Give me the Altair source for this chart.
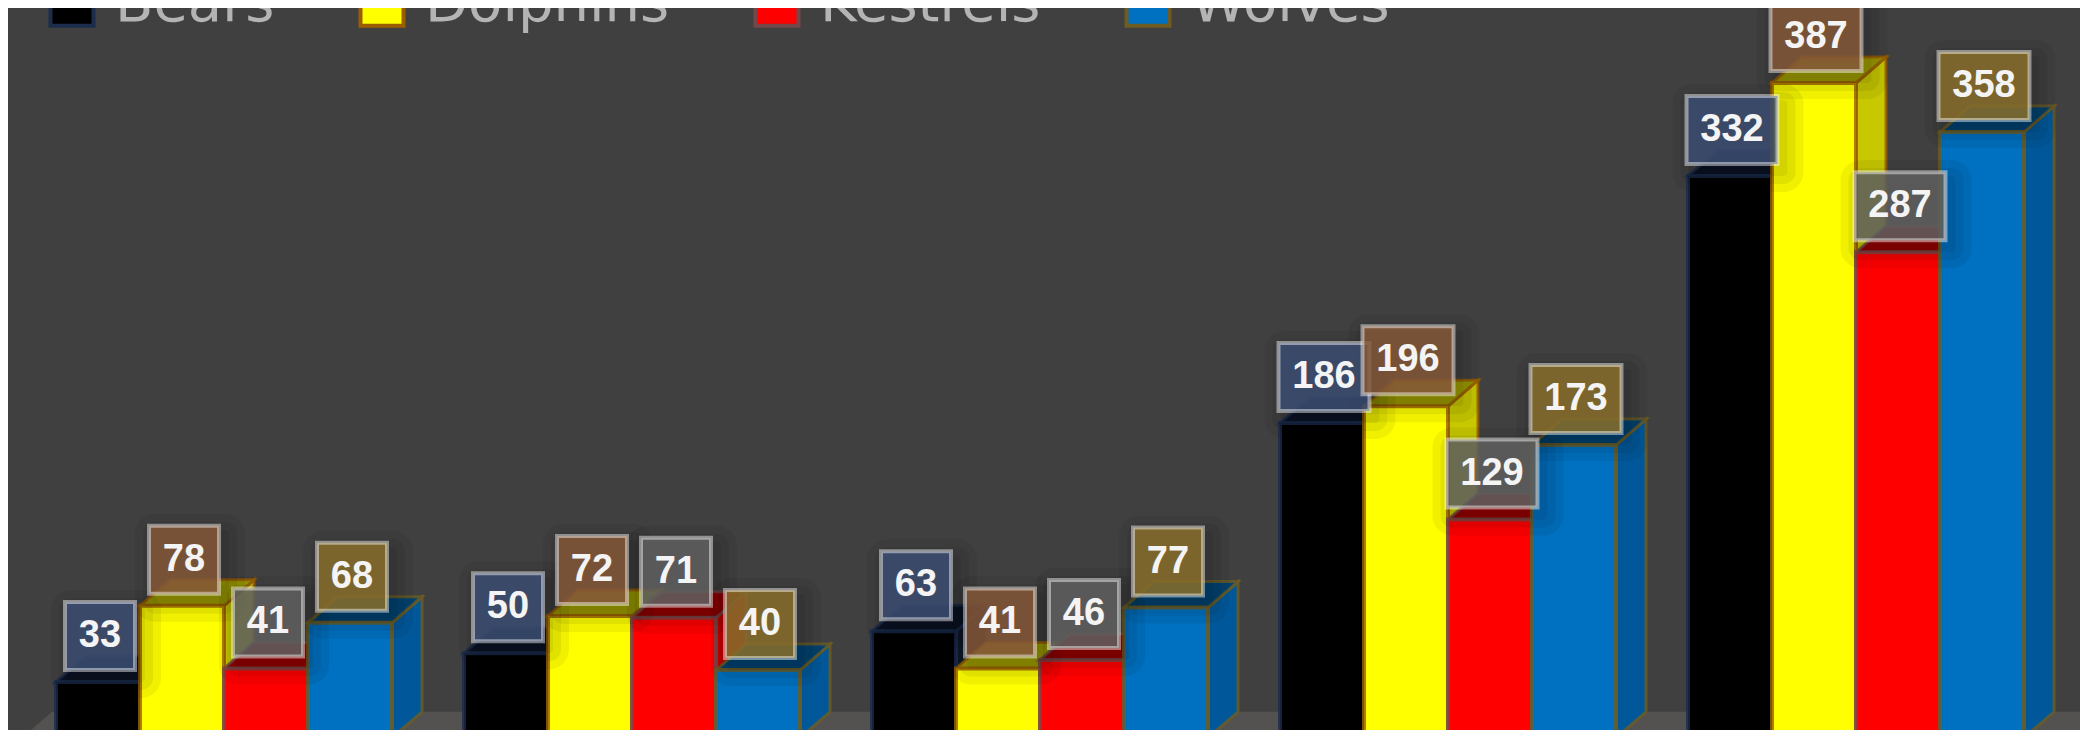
import altair as alt
import pandas as pd

# ---- data -------------------------------------------------------------
series = ["Bears", "Dolphins", "Kestrels", "Wolves"]
groups = ["G1", "G2", "G3", "G4", "G5"]
bears = [33, 50, 63, 186, 332]
dolphins = [78, 72, 41, 196, 387]
kestrels = [41, 71, 46, 129, 287]
wolves = [68, 40, 77, 173, 358]
values = [bears, dolphins, kestrels, wolves]

# ---- style ------------------------------------------------------------
front_colors = ["#000000", "#ffff00", "#ff0000", "#0070c0"]
top_colors = ["#0b1222", "#9c9a00", "#940000", "#00426f"]
side_colors = ["#101828", "#c8c800", "#c20000", "#00589a"]
edge_colors = ["#1c2c4c", "#9a5e00", "#744848", "#6e5c22"]
label_fill = ["#3c4d72", "#855838", "#606060", "#886f2c"]
BG = "#404040"
FLOOR = "#545151"

PX_X = 84.0          # pixels per bar width unit
PX_Y = 1.692         # pixels per value unit
GROUP_STEP = 408.0 / PX_X
DX = 30.0 / PX_X     # 3D depth, horizontal
DY = 26.0 / PX_Y     # 3D depth, vertical

W, H = 2072, 722
x_scale = alt.Scale(domain=[-48.0 / PX_X, (W - 48.0) / PX_X], nice=False, zero=False)
y_scale = alt.Scale(domain=[7.8 / PX_Y, (729.8) / PX_Y], nice=False, zero=False)

front_rows, side_rows, top_rows, label_rows = [], [], [], []
for g in range(len(groups)):
    for s, name in enumerate(series):
        v = values[s][g]
        x0 = g * GROUP_STEP + s
        x1 = x0 + 1
        bid = f"{g}-{s}"
        front_rows.append({"series": name, "x0": x0, "x1": x1, "v": v, "base": 0})
        side_rows += [
            {"bar": bid, "x": x1, "lo": 0, "hi": v, "fill": side_colors[s], "edge": edge_colors[s]},
            {"bar": bid, "x": x1 + DX, "lo": DY, "hi": v + DY, "fill": side_colors[s], "edge": edge_colors[s]},
        ]
        top_rows += [
            {"bar": bid, "y": v, "xa": x0, "xb": x1, "fill": top_colors[s], "edge": edge_colors[s]},
            {"bar": bid, "y": v + DY, "xa": x0 + DX, "xb": x1 + DX, "fill": top_colors[s], "edge": edge_colors[s]},
        ]
        half = (35.0 if v < 100 else 45.5) / PX_X
        cx = (x0 + x1) / 2 + 2.0 / PX_X
        label_rows.append({
            "v": v, "cx": cx, "bx0": cx - half, "bx1": cx + half,
            "bb": v + 12.0 / PX_Y, "bt": v + 80.0 / PX_Y, "ty": v + 46.0 / PX_Y,
            "fill": label_fill[s],
        })

front_df = pd.DataFrame(front_rows)
side_df = pd.DataFrame(side_rows)
top_df = pd.DataFrame(top_rows)
label_df = pd.DataFrame(label_rows)
floor_df = pd.DataFrame([
    {"y": 0, "xa": -34.0 / PX_X, "xb": 40.0},
    {"y": DY, "xa": -34.0 / PX_X + DX, "xb": 40.0},
])

# ---- layers -----------------------------------------------------------
floor = alt.Chart(floor_df).mark_area(orient="horizontal", color=FLOOR, clip=True).encode(
    y=alt.Y("y:Q", scale=y_scale, axis=None),
    x=alt.X("xa:Q", scale=x_scale, axis=None),
    x2="xb:Q",
)

sides = alt.Chart(side_df).mark_area(orient="vertical", clip=True, strokeWidth=3, strokeOpacity=0.8).encode(
    x=alt.X("x:Q", scale=x_scale, axis=None),
    y=alt.Y("hi:Q", scale=y_scale, axis=None),
    y2="lo:Q",
    detail="bar:N",
    fill=alt.Fill("fill:N", scale=None, legend=None),
    stroke=alt.Stroke("edge:N", scale=None, legend=None),
)

tops = alt.Chart(top_df).mark_area(orient="horizontal", clip=True, strokeWidth=3, strokeOpacity=0.8).encode(
    y=alt.Y("y:Q", scale=y_scale, axis=None),
    x=alt.X("xa:Q", scale=x_scale, axis=None),
    x2="xb:Q",
    detail="bar:N",
    fill=alt.Fill("fill:N", scale=None, legend=None),
    stroke=alt.Stroke("edge:N", scale=None, legend=None),
)

legend = alt.Legend(
    title=None, orient="none", legendX=36, legendY=-32, direction="horizontal",
    symbolType="square", symbolSize=1849, symbolStrokeWidth=4, symbolOpacity=1,
    labelFont="DejaVu Sans", labelFontSize=56, labelColor="#b4b4b4",
    labelOffset=15, columnPadding=77, padding=0, labelLimit=400,
)

fronts = alt.Chart(front_df).mark_rect(clip=True, strokeWidth=4, strokeOpacity=0.8).encode(
    x=alt.X("x0:Q", scale=x_scale, axis=None),
    x2="x1:Q",
    y=alt.Y("v:Q", scale=y_scale, axis=None),
    y2="base:Q",
    fill=alt.Fill("series:N", scale=alt.Scale(domain=series, range=front_colors), legend=legend),
    stroke=alt.Stroke("series:N", scale=alt.Scale(domain=series, range=edge_colors), legend=legend),
)

base_lbl = alt.Chart(label_df)
shadows = []
for spread in (4, 12, 20):
    shadows.append(base_lbl.mark_rect(
        color="#000000", opacity=0.06, cornerRadius=spread,
        xOffset=6 - spread, x2Offset=6 + spread, yOffset=8 - spread, y2Offset=8 + spread,
    ).encode(
        x=alt.X("bx0:Q", scale=x_scale, axis=None), x2="bx1:Q",
        y=alt.Y("bt:Q", scale=y_scale, axis=None), y2="bb:Q",
    ))

boxes = base_lbl.mark_rect(fillOpacity=0.85, stroke="#ffffff", strokeOpacity=0.45, strokeWidth=4).encode(
    x=alt.X("bx0:Q", scale=x_scale, axis=None), x2="bx1:Q",
    y=alt.Y("bt:Q", scale=y_scale, axis=None), y2="bb:Q",
    fill=alt.Fill("fill:N", scale=None, legend=None),
)

texts = base_lbl.mark_text(
    font="Liberation Sans", fontWeight="bold", fontSize=38, color="#f4f4f4",
    align="center", baseline="middle",
).encode(
    x=alt.X("cx:Q", scale=x_scale, axis=None),
    y=alt.Y("ty:Q", scale=y_scale, axis=None),
    text="v:Q",
)

chart = alt.layer(floor, sides, tops, fronts, *shadows, boxes, texts).resolve_scale(
    fill="independent", stroke="independent"
).properties(
    width=W, height=H, padding=0, autosize=alt.AutoSizeParams(type="none"),
).configure(background=BG).configure_view(strokeWidth=0)

chart.save("out.html", embed_options={"renderer": "svg", "actions": False})
